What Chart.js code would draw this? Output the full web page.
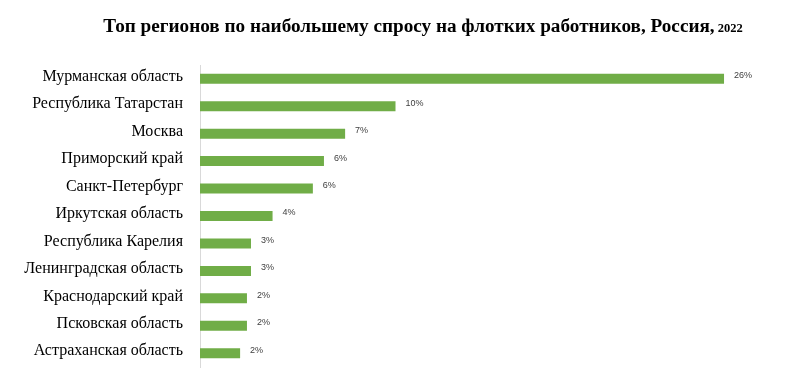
<!DOCTYPE html>
<html><head><meta charset="utf-8">
<script src="https://cdn.jsdelivr.net/npm/chart.js@4/dist/chart.umd.min.js"></script>
<style>html,body{margin:0;padding:0;background:#fff;}#wrap{width:811px;height:379px;position:relative;}</style>
</head><body><div id="wrap"><canvas id="c" width="811" height="379"></canvas></div>
<script>
const categories = ["Мурманская область","Республика Татарстан","Москва","Приморский край","Санкт-Петербург","Иркутская область","Республика Карелия","Ленинградская область","Краснодарский край","Псковская область","Астраханская область"];
const values = [26.0, 9.7, 7.2, 6.15, 5.6, 3.6, 2.53, 2.53, 2.33, 2.33, 1.99];
const valueLabels = ["26%","10%","7%","6%","6%","4%","3%","3%","2%","2%","2%"];
const titleMain = "Топ регионов по наибольшему спросу на флотких работников, Россия,";
const titleYear = " 2022";

const labelPlugin = {
  id: 'barLabels',
  afterDatasetsDraw(chart) {
    const ctx = chart.ctx;
    const meta = chart.getDatasetMeta(0);
    ctx.save();
    ctx.font = '9px "Liberation Sans", sans-serif';
    ctx.fillStyle = '#404040';
    ctx.textBaseline = 'middle';
    ctx.textAlign = 'left';
    meta.data.forEach((bar, i) => {
      ctx.fillText(valueLabels[i], bar.x + 10, bar.y - 3);
    });
    ctx.restore();
  },
  afterDraw(chart) {
    const ctx = chart.ctx;
    ctx.save();
    const f1 = 'bold 19.2px "Liberation Serif", serif';
    const f2 = 'bold 12.5px "Liberation Serif", serif';
    ctx.font = f1; const w1 = ctx.measureText(titleMain).width;
    ctx.font = f2; const w2 = ctx.measureText(titleYear).width;
    const x0 = 423 - (w1 + w2) / 2;
    ctx.textBaseline = 'alphabetic';
    ctx.fillStyle = '#000';
    ctx.font = f1; ctx.fillText(titleMain, x0, 32);
    ctx.font = f2; ctx.fillText(titleYear, x0 + w1, 32);
    ctx.restore();
  }
};

new Chart(document.getElementById('c'), {
  type: 'bar',
  data: {
    labels: categories,
    datasets: [{ data: values, backgroundColor: '#70AD47', barPercentage: 0.364, categoryPercentage: 1.0 }]
  },
  options: {
    indexAxis: 'y',
    responsive: false,
    animation: false,
    layout: { padding: { top: 65, bottom: 12, left: 0, right: 26.5 } },
    plugins: { legend: { display: false }, tooltip: { enabled: false }, title: { display: false } },
    scales: {
      x: { display: false, min: 0, max: 29 },
      y: {
        afterFit(scale) { scale.width = 200; scale.paddingTop = 0; scale.paddingBottom = 0; },
        grid: { display: false },
        border: { display: true, color: '#d9d9d9', width: 1 },
        ticks: { color: '#000', padding: 9, labelOffset: -2, font: { family: '"Liberation Serif", serif', size: 16 } }
      }
    }
  },
  plugins: [labelPlugin]
});
</script></body></html>
